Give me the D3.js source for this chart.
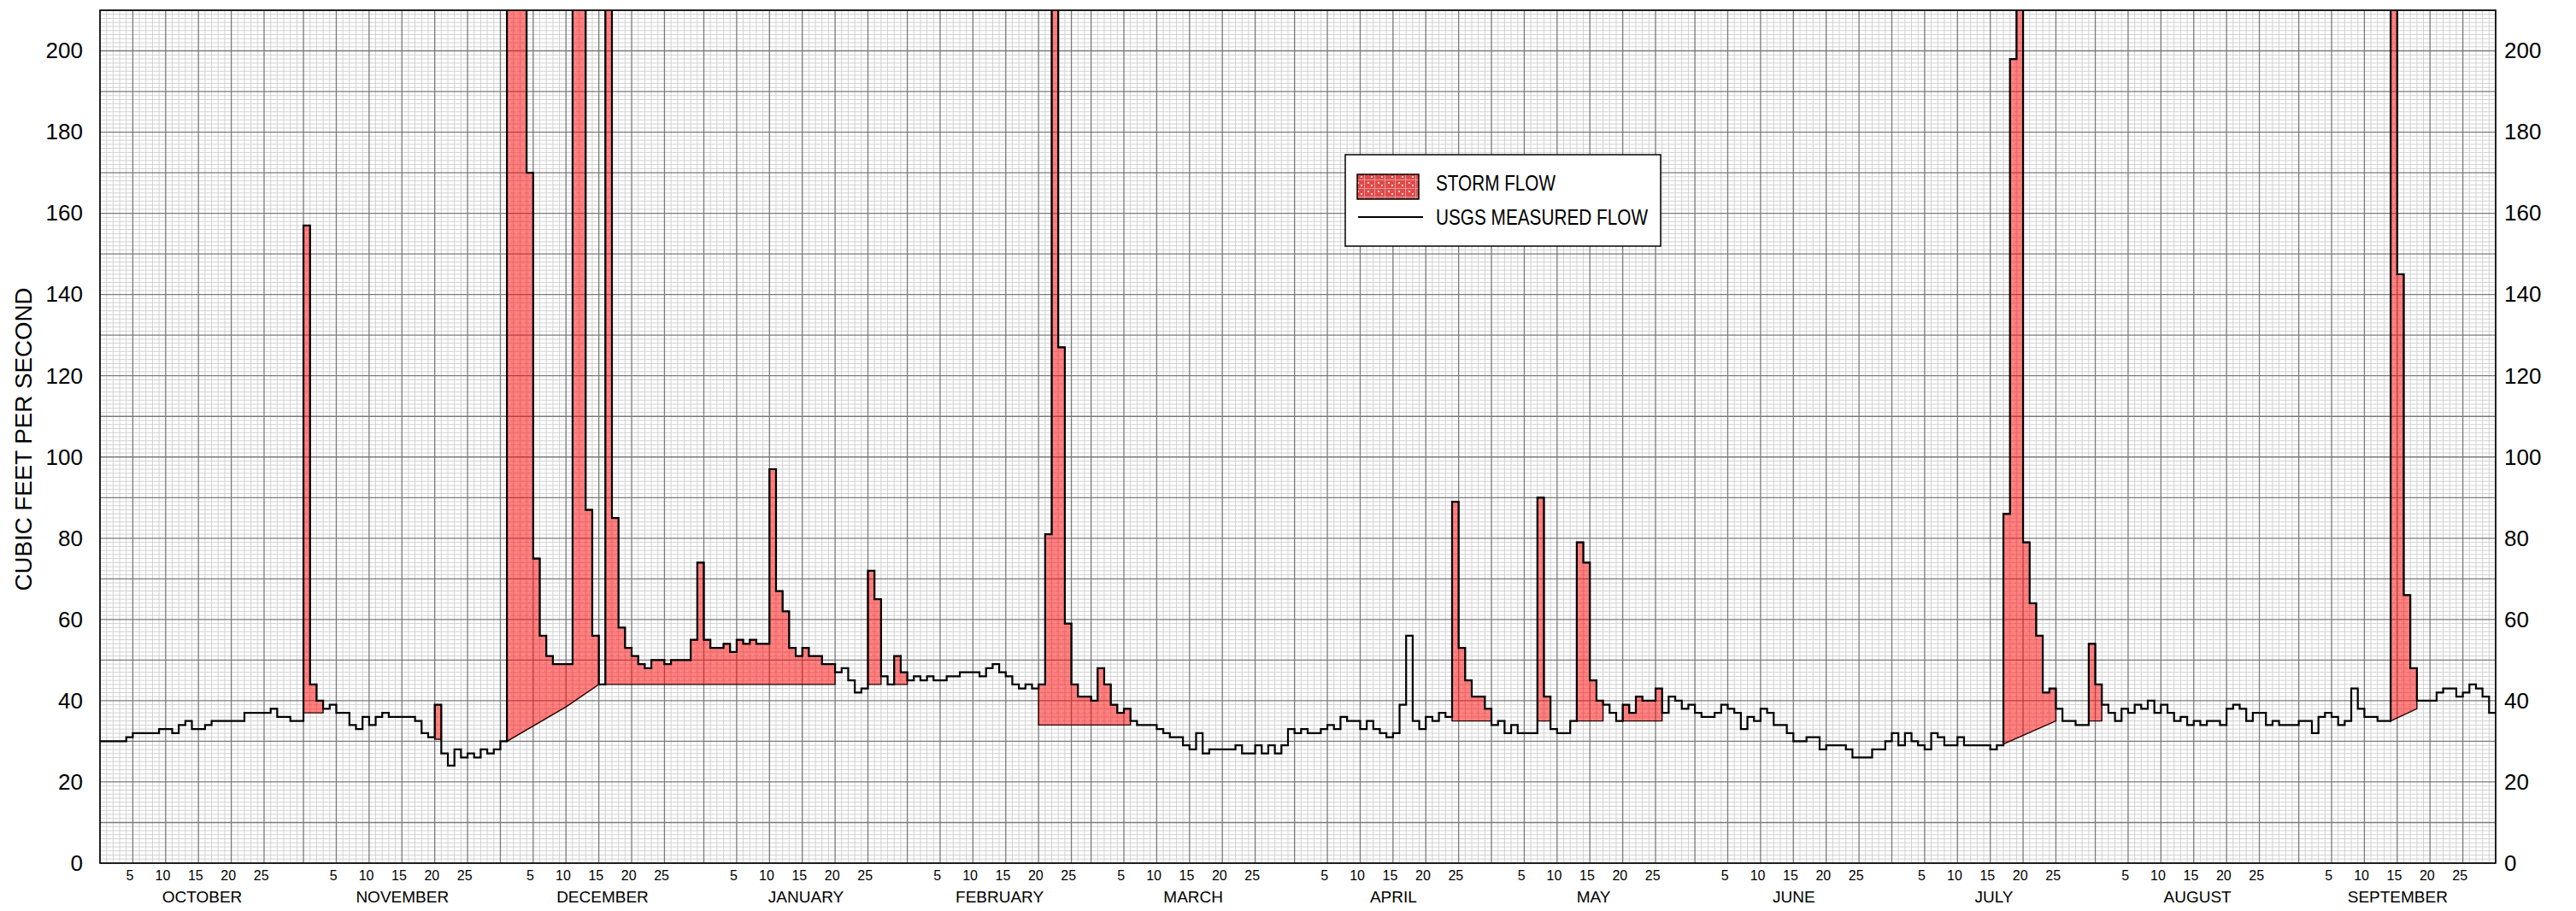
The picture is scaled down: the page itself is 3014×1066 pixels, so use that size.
<!DOCTYPE html>
<html>
<head>
<meta charset="utf-8">
<script src="https://cdn.jsdelivr.net/npm/d3@7"></script>
<style>
  html, body { margin: 0; padding: 0; background: #fff; }
  svg { display: block; font-family: "Liberation Sans", Arial, Helvetica, sans-serif; }
</style>
</head>
<body>
<svg id="chart" width="3014" height="1066"></svg>
<script>
// Water-year calendar (October through September)
const months = ["OCTOBER", "NOVEMBER", "DECEMBER", "JANUARY", "FEBRUARY", "MARCH",
                "APRIL", "MAY", "JUNE", "JULY", "AUGUST", "SEPTEMBER"];
const monthDays = [31, 30, 31, 31, 28, 31, 30, 31, 30, 31, 31, 30];
const dayTicks = [5, 10, 15, 20, 25];
const yTicks = [0, 20, 40, 60, 80, 100, 120, 140, 160, 180, 200];

// Daily mean flow, cubic feet per second
const octFlow = [30,30,30,30,31,32,32,32,32,33,33,32,34,35,33,33,34,35,35,35,35,35,37,37,37,37,38,36,36,35,35];
const novFlow = [157,44,40,38,39,37,37,34,33,36,34,36,37,36,36,36,36,35,32,31,39,27,24,28,26,27,26,28,27,28];
const decFlow = [30,480,350,240,170,75,56,51,49,49,49,310,260,87,56,44,290,85,58,53,51,49,48,50,50,49,50,50,50,55,74];
const janFlow = [55,53,53,54,52,55,54,55,54,54,97,67,62,53,51,53,51,51,49,49,47,48,45,42,43,72,65,46,44,51,47];
const febFlow = [45,46,45,46,45,45,46,46,47,47,47,46,48,49,47,46,44,43,44,43,44,81,420,127,59,44,41,41];
const marFlow = [40,48,44,39,37,38,35,34,34,34,33,32,31,31,29,28,32,27,28,28,28,28,29,27,27,29,27,29,27,29,33];
const aprFlow = [32,33,32,32,33,34,33,36,35,35,33,35,33,32,31,32,39,56,35,33,36,35,37,36,89,53,45,41,41,38];
const mayFlow = [34,35,32,34,32,32,32,90,41,33,32,32,35,79,74,45,40,39,37,35,39,37,41,40,40,43,37,41,40,38,39];
const junFlow = [37,36,36,37,39,38,37,33,36,35,38,37,34,34,32,30,30,31,31,28,29,29,29,28,26,26,26,28,28,30];
const julFlow = [32,29,32,30,29,28,32,31,29,29,31,29,29,29,29,28,29,86,198,380,79,64,56,42,43,38,35,35,34,34,54];
const augFlow = [44,39,37,35,38,37,39,38,40,37,39,37,35,36,34,35,34,35,35,34,38,39,38,35,37,37,34,35,34,34,34];
const sepFlow = [35,35,32,36,37,36,34,35,43,38,36,36,35,35,330,145,66,48,40,40,40,42,43,43,41,42,44,43,41,37];

// Storm-flow periods: day-index range and the separated base-flow line under each
const stormEvents = [
  { start: 31,  end: 34,  base: [[31, 37], [34, 37]] },
  { start: 51,  end: 52,  base: [[51, 30.5], [52, 30.5]] },
  { start: 62,  end: 112, base: [[62, 30], [71, 38.5], [76, 44], [112, 44]] },
  { start: 117, end: 119, base: [[117, 44], [119, 44]] },
  { start: 121, end: 123, base: [[121, 44], [123, 44]] },
  { start: 143, end: 157, base: [[143, 34], [157, 34]] },
  { start: 206, end: 212, base: [[206, 35], [212, 35]] },
  { start: 219, end: 221, base: [[219, 35], [221, 35]] },
  { start: 225, end: 229, base: [[225, 35], [229, 35]] },
  { start: 232, end: 238, base: [[232, 35], [238, 35]] },
  { start: 290, end: 298, base: [[290, 29.3], [298, 35]] },
  { start: 303, end: 305, base: [[303, 35], [305, 35]] },
  { start: 349, end: 353, base: [[349, 35], [353, 38]] }
];

const flow = [].concat(octFlow, novFlow, decFlow, janFlow, febFlow, marFlow,
                       aprFlow, mayFlow, junFlow, julFlow, augFlow, sepFlow);
const nDays = flow.length;
const monthStart = monthDays.map((_, i) => d3.sum(monthDays.slice(0, i)));

const plot = { left: 117, right: 2920, top: 12, bottom: 1010 };
const svg = d3.select("#chart");

const x = d3.scaleLinear().domain([0, nDays]).range([plot.left, plot.right]);
const y = d3.scaleLinear().domain([0, 210]).range([plot.bottom, plot.top]);

const defs = svg.append("defs");
defs.append("clipPath").attr("id", "plotClip")
  .append("rect")
  .attr("x", plot.left).attr("y", plot.top)
  .attr("width", plot.right - plot.left).attr("height", plot.bottom - plot.top);

// translucent red with a sparse dot texture
const pat = defs.append("pattern").attr("id", "stormFill")
  .attr("patternUnits", "userSpaceOnUse")
  .attr("x", plot.left).attr("y", plot.top)
  .attr("width", x(1) - x(0)).attr("height", 9.5);
pat.append("rect").attr("width", x(1) - x(0)).attr("height", 9.5)
  .attr("fill", "#ff0000").attr("fill-opacity", 0.5);
pat.append("rect").attr("x", 3).attr("y", 4).attr("width", 1).attr("height", 1)
  .attr("fill", "#ffffff").attr("fill-opacity", 0.55);

// legend swatch texture
const pat2 = defs.append("pattern").attr("id", "swatchFill")
  .attr("patternUnits", "userSpaceOnUse")
  .attr("width", 12).attr("height", 10);
pat2.append("rect").attr("width", 12).attr("height", 10).attr("fill", "#e64848");
pat2.append("rect").attr("x", 0).attr("y", 0).attr("width", 12).attr("height", 1)
  .attr("fill", "#c9a0a0");
pat2.append("rect").attr("x", 0).attr("y", 0).attr("width", 1).attr("height", 10)
  .attr("fill", "#c9a0a0");
pat2.append("rect").attr("x", 4).attr("y", 3).attr("width", 2).attr("height", 2)
  .attr("fill", "#ffd0d0");
pat2.append("rect").attr("x", 8).attr("y", 6).attr("width", 2).attr("height", 2)
  .attr("fill", "#ffd0d0");

svg.append("rect").attr("width", 3014).attr("height", 1066).attr("fill", "#fff");

// ---- grid ----
const grid = svg.append("g");
const majorDays = [];
monthStart.forEach(s => { majorDays.push(s); dayTicks.forEach(dd => majorDays.push(s + dd)); });
majorDays.push(nDays);
const majorSet = new Set(majorDays);

grid.selectAll("line.vminor")
  .data(d3.range(0, nDays + 1).filter(d => !majorSet.has(d)))
  .join("line")
  .attr("x1", d => x(d)).attr("x2", d => x(d))
  .attr("y1", plot.top).attr("y2", plot.bottom)
  .attr("stroke", "#d2d2d2").attr("stroke-width", 1);

grid.selectAll("line.hminor")
  .data(d3.range(0, 211).filter(v => v % 10 !== 0))
  .join("line")
  .attr("x1", plot.left).attr("x2", plot.right)
  .attr("y1", v => y(v)).attr("y2", v => y(v))
  .attr("stroke", "#d2d2d2").attr("stroke-width", 1);

grid.selectAll("line.vmajor")
  .data(majorDays)
  .join("line")
  .attr("x1", d => x(d)).attr("x2", d => x(d))
  .attr("y1", plot.top).attr("y2", plot.bottom)
  .attr("stroke", "#7a7a7a").attr("stroke-width", 1.3);

grid.selectAll("line.hmajor")
  .data(d3.range(0, 211, 10))
  .join("line")
  .attr("x1", plot.left).attr("x2", plot.right)
  .attr("y1", v => y(v)).attr("y2", v => y(v))
  .attr("stroke", "#7a7a7a").attr("stroke-width", 1.3);

// ---- storm flow polygons ----
function stormOutline(ev) {
  const top = [];
  for (let d = ev.start; d < ev.end; d++) {
    top.push([d, flow[d]], [d + 1, flow[d]]);
  }
  return top.concat(ev.base.slice().reverse());
}
const polyLine = d3.line()
  .x(p => x(p[0])).y(p => y(p[1]))
  .curve(d3.curveLinearClosed);

const marks = svg.append("g").attr("clip-path", "url(#plotClip)");
marks.selectAll("path.storm")
  .data(stormEvents)
  .join("path")
  .attr("class", "storm")
  .attr("d", ev => polyLine(stormOutline(ev)))
  .attr("fill", "url(#stormFill)")
  .attr("stroke", "#2a0000")
  .attr("stroke-width", 1.4)
  .attr("stroke-linejoin", "miter");

// ---- measured flow step line ----
const stepPts = flow.map((v, i) => [i, v]);
stepPts.push([nDays, flow[nDays - 1]]);
const stepLine = d3.line()
  .x(p => x(p[0])).y(p => y(p[1]))
  .curve(d3.curveStepAfter);
marks.append("path")
  .attr("d", stepLine(stepPts))
  .attr("fill", "none")
  .attr("stroke", "#000")
  .attr("stroke-width", 2.2)
  .attr("stroke-linejoin", "miter");

// ---- frame ----
svg.append("rect")
  .attr("x", plot.left).attr("y", plot.top)
  .attr("width", plot.right - plot.left).attr("height", plot.bottom - plot.top)
  .attr("fill", "none").attr("stroke", "#000").attr("stroke-width", 1.6);

// ---- axes ----
function styleAxis(g, size) {
  g.select(".domain").remove();
  g.selectAll(".tick line").remove();
  g.selectAll("text")
    .attr("fill", "#000")
    .style("font-family", '"Liberation Sans", Arial, sans-serif')
    .style("font-size", size + "px");
}

svg.append("g")
  .attr("transform", `translate(${plot.left},0)`)
  .call(d3.axisLeft(y).tickValues(yTicks).tickSize(0).tickPadding(20))
  .call(g => styleAxis(g, 26));

svg.append("g")
  .attr("transform", `translate(${plot.right},0)`)
  .call(d3.axisRight(y).tickValues(yTicks).tickSize(0).tickPadding(10))
  .call(g => styleAxis(g, 26));

const dayPos = [];
const dayLabel = new Map();
monthStart.forEach(s => dayTicks.forEach(dd => {
  const p = s + dd - 0.5;
  dayPos.push(p);
  dayLabel.set(p, String(dd));
}));
svg.append("g")
  .attr("transform", `translate(0,${plot.bottom})`)
  .call(d3.axisBottom(x).tickValues(dayPos).tickFormat(p => dayLabel.get(p))
        .tickSize(0).tickPadding(9))
  .call(g => styleAxis(g, 16));

const monthPos = monthStart.map((s, i) => s + monthDays[i] / 2);
svg.append("g")
  .attr("transform", `translate(0,${plot.bottom})`)
  .call(d3.axisBottom(x).tickValues(monthPos).tickFormat((p, i) => months[i])
        .tickSize(0).tickPadding(33))
  .call(g => styleAxis(g, 19));

svg.append("text")
  .attr("transform", `translate(37,${(plot.top + plot.bottom) / 2 + 3}) rotate(-90)`)
  .attr("text-anchor", "middle")
  .attr("font-size", 27)
  .attr("textLength", 355)
  .attr("lengthAdjust", "spacingAndGlyphs")
  .text("CUBIC FEET PER SECOND");

// ---- legend ----
const lg = svg.append("g");
lg.append("rect")
  .attr("x", 1574).attr("y", 181).attr("width", 369).attr("height", 107)
  .attr("fill", "#fff").attr("stroke", "#000").attr("stroke-width", 1.5);
lg.append("rect")
  .attr("x", 1588).attr("y", 204).attr("width", 72).attr("height", 29)
  .attr("fill", "url(#swatchFill)").attr("stroke", "#000").attr("stroke-width", 1.5);
lg.append("line")
  .attr("x1", 1589).attr("x2", 1665).attr("y1", 254).attr("y2", 254)
  .attr("stroke", "#000").attr("stroke-width", 2);
lg.append("text")
  .attr("x", 1680).attr("y", 223)
  .attr("font-size", 25)
  .attr("textLength", 140).attr("lengthAdjust", "spacingAndGlyphs")
  .text("STORM FLOW");
lg.append("text")
  .attr("x", 1680).attr("y", 263)
  .attr("font-size", 25)
  .attr("textLength", 248).attr("lengthAdjust", "spacingAndGlyphs")
  .text("USGS MEASURED FLOW");
</script>
</body>
</html>
